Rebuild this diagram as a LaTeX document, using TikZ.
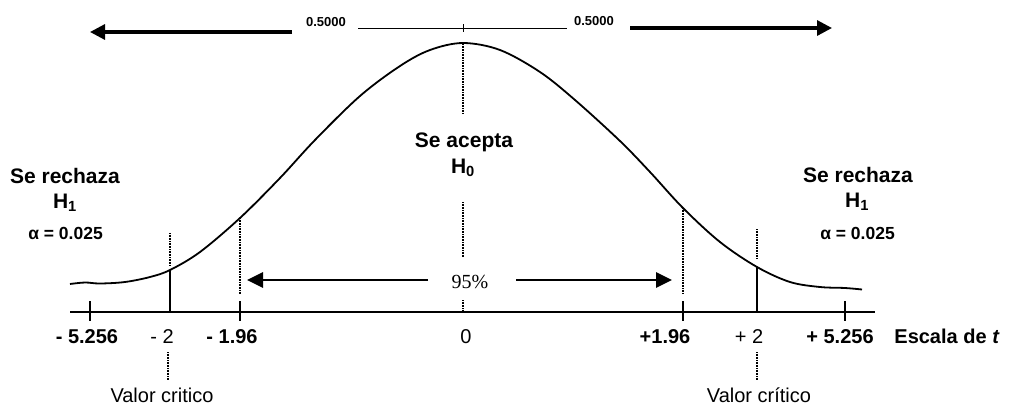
\documentclass[tikz,border=0pt]{standalone}
\usepackage{fontspec}
\setmainfont{Liberation Sans}
\newfontfamily\serifface{Liberation Serif}
\usetikzlibrary{arrows.meta}
\begin{document}
\begin{tikzpicture}[x=1pt,y=-1pt,
  lbl/.style={font=\fontsize{20}{22}\selectfont, anchor=base, inner sep=0pt},
  blbl/.style={font=\fontsize{20}{22}\selectfont\bfseries, anchor=base, inner sep=0pt},
  title/.style={font=\fontsize{21}{23}\selectfont\bfseries, anchor=base, inner sep=0pt},
  alpha/.style={font=\fontsize{17.5}{20}\selectfont\bfseries, anchor=base, inner sep=0pt},
  small/.style={font=\fontsize{13}{15}\selectfont\bfseries, inner sep=0pt},
  pct/.style={font=\fontsize{20}{22}\selectfont\serifface, inner sep=0pt},
  bigarrow/.style={line width=3.2pt, -{Triangle[length=15pt,width=15pt]}},
  midarrow/.style={line width=2.8pt, -{Triangle[length=16pt,width=15pt]}},
  dotline/.style={line width=1.1pt, dash pattern=on 1pt off 0.6pt},
  tick/.style={line width=1.8pt},
  axis/.style={line width=2pt},
  curve/.style={line width=1.8pt}
]
\useasboundingbox (0,0) rectangle (1015,405);

% curve
\draw[curve] plot[smooth, tension=0.55] coordinates {
 (70,284) (85,282.5) (100,283.5) (125,282) (150,277) (170,270) (200,252)
 (240,218) (280,178) (315,140) (360,96) (400,66) (430,50) (463,43)
 (500,50) (540,72) (575,100) (620,141) (650,172) (683,208) (720,242)
 (757,267) (790,282) (820,287) (845,288) (862,289.5)};

% top
\coordinate (tl) at (358,28); \coordinate (tr) at (567,28);
\coordinate (tc1) at (463,24); \coordinate (tc2) at (463,32);
\draw[line width=0.9pt] (tl) -- (tr);
\draw[line width=0.9pt] (tc1) -- (tc2);
\node[small] (hl) at (326,22) {0.5000};
\node[small] (hr) at (594,21) {0.5000};
\coordinate (al1) at (292,32); \coordinate (al2) at (90,32);
\coordinate (ar1) at (630,28); \coordinate (ar2) at (832,28);
\draw[bigarrow] (al1) -- (al2);
\draw[bigarrow] (ar1) -- (ar2);

% center dotted
\coordinate (c1) at (463,44); \coordinate (c2) at (463,113);
\coordinate (c3) at (463,202); \coordinate (c4) at (463,257);
\coordinate (c5) at (463,300); \coordinate (c6) at (463,312);
\draw[dotline] (c1) -- (c2);
\draw[dotline] (c3) -- (c4);
\draw[dotline] (c5) -- (c6);

\node[title] (acep) at (464,147) {Se acepta};
\node[title] (h0) at (463,173) {H\textsubscript{0}};

% 95%
\node[pct] (p95) at (470,282) {95\%};
\coordinate (m1) at (428,280); \coordinate (m2) at (247,280);
\coordinate (m3) at (516,280); \coordinate (m4) at (672,280);
\draw[midarrow] (m1) -- (m2);
\draw[midarrow] (m3) -- (m4);

% axis
\coordinate (ax1) at (70,312); \coordinate (ax2) at (875,312);
\draw[axis] (ax1) -- (ax2);
\foreach \x/\n in {90/a,240/b,683/c,845/d}{
  \coordinate (t\n1) at (\x,301); \coordinate (t\n2) at (\x,321);
  \draw[tick] (t\n1) -- (t\n2);
}
\coordinate (d1) at (240,218); \coordinate (d2) at (240,294);
\coordinate (d3) at (683,208); \coordinate (d4) at (683,294);
\draw[dotline] (d1) -- (d2);
\draw[dotline] (d3) -- (d4);
\coordinate (e1) at (170,233); \coordinate (e2) at (170,266);
\coordinate (e3) at (170,270); \coordinate (e4) at (170,312);
\draw[dotline] (e1) -- (e2);
\draw[axis] (e3) -- (e4);
\coordinate (f1) at (757,229); \coordinate (f2) at (757,258);
\coordinate (f3) at (757,267); \coordinate (f4) at (757,312);
\draw[dotline] (f1) -- (f2);
\draw[axis] (f3) -- (f4);

% axis labels
\node[blbl] (l1) at (87,343) {- 5.256};
\node[lbl] (l2) at (162,343) {- 2};
\node[blbl] (l3) at (232,343) {- 1.96};
\node[lbl] (l4) at (466,343) {0};
\node[blbl] (l5) at (665,343) {+1.96};
\node[lbl] (l6) at (749,343) {+ 2};
\node[blbl] (l7) at (840,343) {+ 5.256};
\node[blbl] (l8) at (947,343) {Escala de \textit{t}};

% valor critico
\coordinate (v1) at (168,352); \coordinate (v2) at (168,380);
\coordinate (v3) at (757,352); \coordinate (v4) at (757,380);
\draw[dotline] (v1) -- (v2);
\draw[dotline] (v3) -- (v4);
\node[lbl] (vc1) at (162,402) {Valor critico};
\node[lbl] (vc2) at (759,402) {Valor crítico};

% rejection labels
\node[title] (rl) at (65,183) {Se rechaza};
\node[title] (rlh) at (65,208) {H\textsubscript{1}};
\node[alpha] (rla) at (65.5,239) {α = 0.025};
\node[title] (rr) at (858,182) {Se rechaza};
\node[title] (rrh) at (857,207) {H\textsubscript{1}};
\node[alpha] (rra) at (857.5,239) {α = 0.025};
\end{tikzpicture}
\end{document}
